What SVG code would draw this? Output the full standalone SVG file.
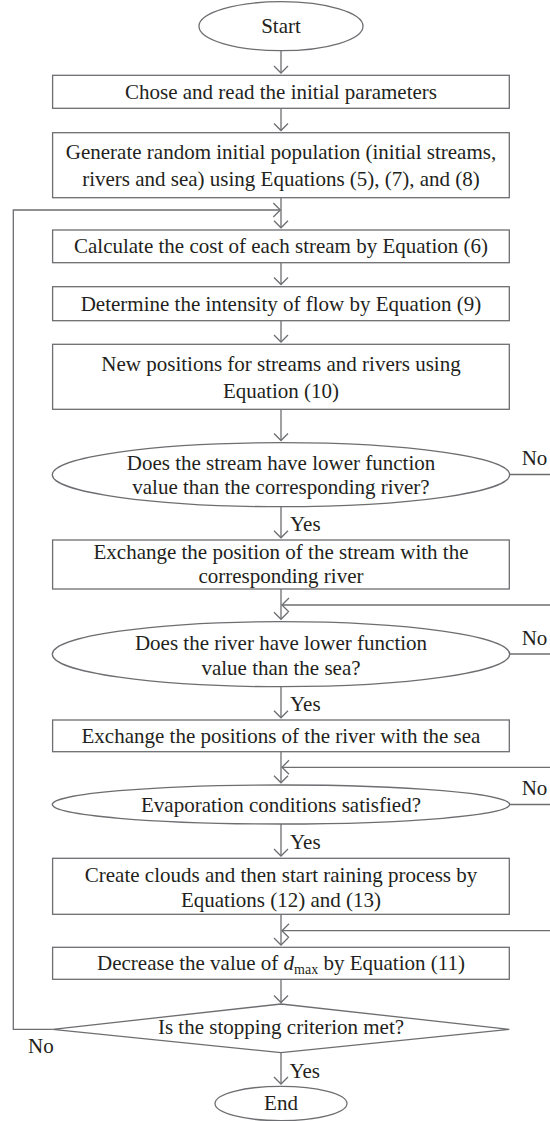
<svg xmlns="http://www.w3.org/2000/svg" width="550" height="1121" viewBox="0 0 550 1121">
<style>
.n{fill:#ffffff;stroke:#6d6e71;stroke-width:1.3}
.t{font-family:"Liberation Serif","Times New Roman",serif;font-size:21px;fill:#231f20;text-anchor:middle}
.l{font-family:"Liberation Serif","Times New Roman",serif;font-size:21px;fill:#231f20}
.c{fill:none;stroke:#6d6e71;stroke-width:1.3}
.a{marker-end:url(#arr)}
</style>
<defs>
<marker id="arr" markerUnits="userSpaceOnUse" markerWidth="16" markerHeight="16" viewBox="-8 -8 16 16" refX="0" refY="0" orient="auto" overflow="visible">
<path d="M-7,-7 L0,0 L-7,7" fill="none" stroke="#6d6e71" stroke-width="1.3"/>
</marker>
</defs>
<rect width="550" height="1121" fill="#ffffff"/>
<g id="connectors">
<line class="c a" x1="281" y1="50.7" x2="281" y2="73"/>
<line class="c a" x1="281" y1="108.3" x2="281" y2="130.5"/>
<line class="c a" x1="281" y1="197.7" x2="281" y2="227.8"/>
<polyline class="c a" points="52.6,1029.3 13.3,1029.3 13.3,210 280.3,210"/>
<line class="c a" x1="281" y1="262.7" x2="281" y2="284.5"/>
<line class="c a" x1="281" y1="320.7" x2="281" y2="342"/>
<line class="c a" x1="281" y1="409.3" x2="281" y2="440.5"/>
<line class="c a" x1="281" y1="506.7" x2="281" y2="537.8"/>
<line class="c" x1="509.3" y1="474.5" x2="550" y2="474.5"/>
<line class="c a" x1="281" y1="589" x2="281" y2="619.3"/>
<line class="c a" x1="550" y1="605" x2="282" y2="605"/>
<line class="c a" x1="281" y1="686.7" x2="281" y2="717.8"/>
<line class="c" x1="509.3" y1="654" x2="550" y2="654"/>
<line class="c a" x1="281" y1="751.7" x2="281" y2="782.8"/>
<line class="c a" x1="550" y1="767.3" x2="282" y2="767.3"/>
<line class="c a" x1="281" y1="824" x2="281" y2="856"/>
<line class="c" x1="509.3" y1="804.5" x2="550" y2="804.5"/>
<line class="c a" x1="281" y1="914.3" x2="281" y2="945"/>
<line class="c a" x1="550" y1="930.7" x2="282" y2="930.7"/>
<line class="c a" x1="281" y1="979.3" x2="281" y2="1002.5"/>
<line class="c a" x1="281" y1="1052.7" x2="281" y2="1084"/>
<text class="l" x="290" y="530.7">Yes</text>
<text class="l" x="521.7" y="465">No</text>
<text class="l" x="290" y="710.7">Yes</text>
<text class="l" x="521.7" y="645">No</text>
<text class="l" x="290" y="849">Yes</text>
<text class="l" x="521.7" y="795">No</text>
<text class="l" x="28" y="1052.7">No</text>
<text class="l" x="289.4" y="1078.3">Yes</text>
</g>
<g id="start">
<ellipse class="n" cx="281" cy="26.2" rx="82" ry="24.5"/>
<text class="t" x="281" y="33.3">Start</text>
</g>
<g id="init">
<rect class="n" x="52.6" y="75.3" width="456.7" height="33"/>
<text class="t" x="281" y="99.3">Chose and read the initial parameters</text>
</g>
<g id="generate">
<rect class="n" x="52.6" y="132.7" width="456.7" height="65"/>
<text class="t" x="281" y="159.3">Generate random initial population (initial streams,</text>
<text class="t" x="281" y="185.7">rivers and sea) using Equations (5), (7), and (8)</text>
</g>
<g id="cost">
<rect class="n" x="52.6" y="230" width="456.7" height="32.7"/>
<text class="t" x="281" y="253.3">Calculate the cost of each stream by Equation (6)</text>
</g>
<g id="intensity">
<rect class="n" x="52.6" y="286.7" width="456.7" height="34"/>
<text class="t" x="281" y="311">Determine the intensity of flow by Equation (9)</text>
</g>
<g id="newpos">
<rect class="n" x="52.6" y="344.3" width="456.7" height="65"/>
<text class="t" x="281" y="371">New positions for streams and rivers using</text>
<text class="t" x="281" y="397.5">Equation (10)</text>
</g>
<g id="q-stream">
<ellipse class="n" cx="281" cy="474.7" rx="228.7" ry="32"/>
<text class="t" x="281" y="469.5">Does the stream have lower function</text>
<text class="t" x="281" y="493.5">value than the corresponding river?</text>
</g>
<g id="swap-stream">
<rect class="n" x="52.6" y="540" width="456.7" height="49"/>
<text class="t" x="281" y="559">Exchange the position of the stream with the</text>
<text class="t" x="281" y="583">corresponding river</text>
</g>
<g id="q-river">
<ellipse class="n" cx="281" cy="654.2" rx="228.7" ry="32.5"/>
<text class="t" x="281" y="650">Does the river have lower function</text>
<text class="t" x="281" y="675">value than the sea?</text>
</g>
<g id="swap-river">
<rect class="n" x="52.6" y="720" width="456.7" height="31.7"/>
<text class="t" x="281" y="743">Exchange the positions of the river with the sea</text>
</g>
<g id="q-evap">
<ellipse class="n" cx="281" cy="804.5" rx="228.7" ry="19.5"/>
<text class="t" x="281" y="812">Evaporation conditions satisfied?</text>
</g>
<g id="rain">
<rect class="n" x="52.6" y="858.3" width="456.7" height="56"/>
<text class="t" x="281" y="881.7">Create clouds and then start raining process by</text>
<text class="t" x="281" y="906.7">Equations (12) and (13)</text>
</g>
<g id="decrease">
<rect class="n" x="52.6" y="947.3" width="456.7" height="32"/>
<text class="t" x="281" y="970">Decrease the value of <tspan font-style="italic">d</tspan><tspan font-size="14" dy="4">max</tspan><tspan dy="-4"> by Equation (11)</tspan></text>
</g>
<g id="stop">
<polygon class="n" points="281,1004 509.3,1029.3 281,1052.7 52.6,1029.3"/>
<text class="t" x="281" y="1034">Is the stopping criterion met?</text>
</g>
<g id="end">
<ellipse class="n" cx="281" cy="1103.5" rx="66" ry="17.2"/>
<text class="t" x="281" y="1110">End</text>
</g>
</svg>
